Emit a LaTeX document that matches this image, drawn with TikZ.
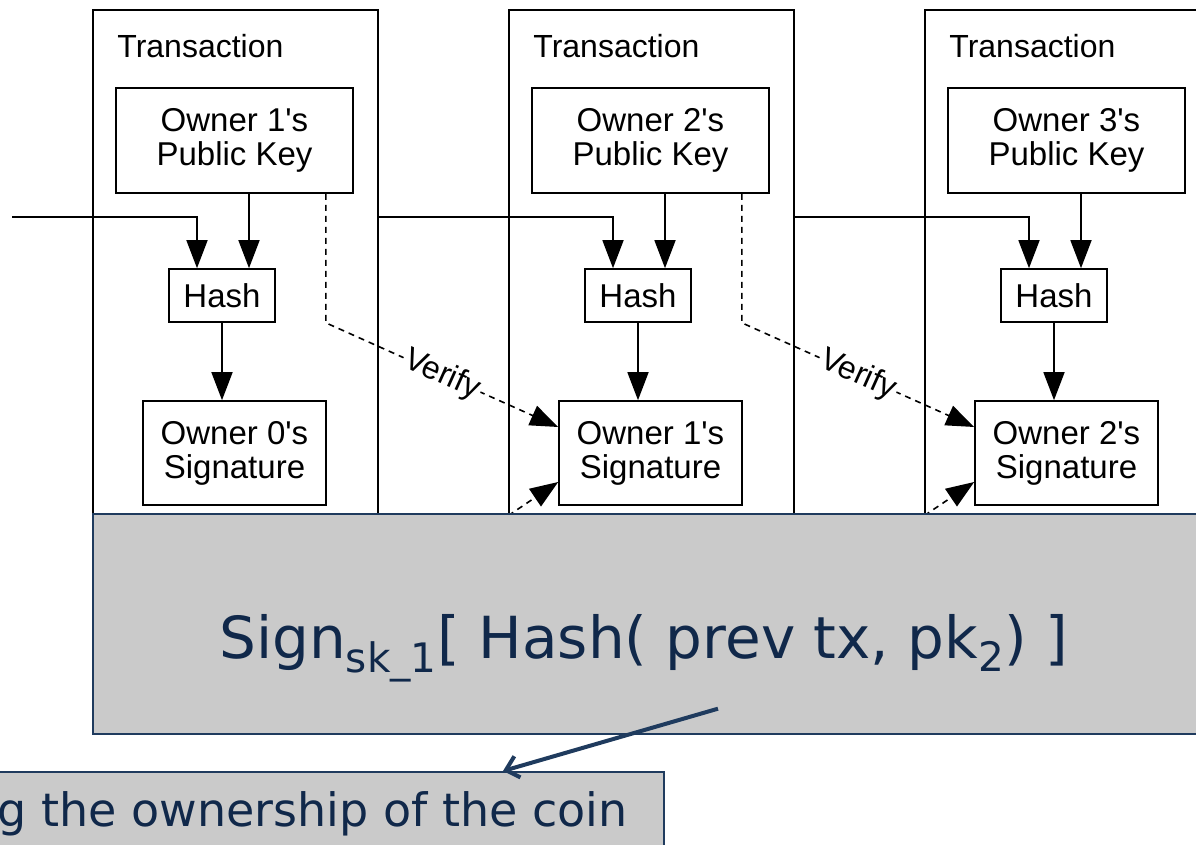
\documentclass[tikz,border=0pt]{standalone}
\usepackage{fontspec}
\setmainfont{Liberation Sans}
\newfontfamily\handfont{DejaVu Sans}
\usetikzlibrary{arrows.meta}
\definecolor{navy}{HTML}{1F3B5E}
\definecolor{inkblue}{HTML}{10284A}
\definecolor{panelgray}{HTML}{CACACA}

\begin{document}
\begin{tikzpicture}[
  x=0.5pt, y=-0.5pt,
  >={Triangle[length=14pt,width=10.5pt]},
  txbox/.style={draw, line width=0.8pt, minimum width=142.5pt, minimum height=266pt, anchor=north west, inner sep=0pt},
  box/.style={draw, line width=0.8pt, fill=white, align=center, inner sep=0pt, font=\fontsize{16.5}{17}\selectfont},
  title/.style={anchor=base west, inner sep=0pt, font=\fontsize{16}{16}\selectfont},
  edge/.style={->, line width=0.8pt},
  verify/.style={->, line width=0.8pt, dash pattern=on 3pt off 2.5pt},
  vlabel/.style={midway, sloped, fill=white, inner sep=1pt, font=\fontsize{16}{16}\selectfont},
  note/.style={draw=navy, line width=1pt, fill=panelgray, inner sep=0pt},
  hand/.style={text=inkblue, inner sep=0pt},
  pointer/.style={draw=navy, line width=2pt, -{Straight Barb[length=6pt,width=11pt]}}
]
  \useasboundingbox (0,0) rectangle (1196,845);

  % transactions
  \node[txbox] (tx1) at (92,9) {};
  \node[txbox] (tx2) at (508,9) {};
  \node[txbox] (tx3) at (924,9) {};
  \node[title] (t1) at (117,58) {Transaction};
  \node[title] (t2) at (533,58) {Transaction};
  \node[title] (t3) at (949,58) {Transaction};

  \node[box, minimum width=118.5pt, minimum height=52.5pt] (pk1) at (234.5,140.5) {Owner 1\textquotesingle s\\Public Key};
  \node[box, minimum width=118.5pt, minimum height=52.5pt] (pk2) at (650.5,140.5) {Owner 2\textquotesingle s\\Public Key};
  \node[box, minimum width=118.5pt, minimum height=52.5pt] (pk3) at (1066.5,140.5) {Owner 3\textquotesingle s\\Public Key};

  \node[box, minimum width=53pt, minimum height=26.5pt] (hash1) at (222,295.5) {Hash};
  \node[box, minimum width=53pt, minimum height=26.5pt] (hash2) at (638,295.5) {Hash};
  \node[box, minimum width=53pt, minimum height=26.5pt] (hash3) at (1054,295.5) {Hash};

  \node[box, minimum width=91.5pt, minimum height=52pt] (sig1) at (234.5,453) {Owner 0\textquotesingle s\\Signature};
  \node[box, minimum width=91.5pt, minimum height=52pt] (sig2) at (650.5,453) {Owner 1\textquotesingle s\\Signature};
  \node[box, minimum width=91.5pt, minimum height=52pt] (sig3) at (1066.5,453) {Owner 2\textquotesingle s\\Signature};

  % previous transaction into hash
  \coordinate (in0) at (12,217);
  \draw[edge] (in0) -| ([xshift=-12.5pt]hash1.north);
  \draw[edge] (tx1.east |- in0) -| ([xshift=-12.5pt]hash2.north);
  \draw[edge] (tx2.east |- in0) -| ([xshift=-12.5pt]hash3.north);

  % public key into hash
  \draw[edge] ([xshift=13.5pt]hash1.north |- pk1.south) -- ([xshift=13.5pt]hash1.north);
  \draw[edge] ([xshift=13.5pt]hash2.north |- pk2.south) -- ([xshift=13.5pt]hash2.north);
  \draw[edge] ([xshift=13.5pt]hash3.north |- pk3.south) -- ([xshift=13.5pt]hash3.north);

  \draw[edge] (hash1.south) -- (hash1.south |- sig1.north);
  \draw[edge] (hash2.south) -- (hash2.south |- sig2.north);
  \draw[edge] (hash3.south) -- (hash3.south |- sig3.north);

  % verify
  \draw[verify] ([xshift=-14pt]pk1.south east) -- ([xshift=-14pt]pk1.south east |- hash1.south)
    -- node[vlabel] (ver1) {Verify} ([yshift=13pt]sig2.west);
  \draw[verify] ([xshift=-14pt]pk2.south east) -- ([xshift=-14pt]pk2.south east |- hash2.south)
    -- node[vlabel] (ver2) {Verify} ([yshift=13pt]sig3.west);

  \coordinate (v2) at (490,528);
  \coordinate (v3) at (906,528);
  \draw[verify] (v2) -- ([yshift=-14.5pt]sig2.west);
  \draw[verify] (v3) -- ([yshift=-14.5pt]sig3.west);

  % signed message
  \node[note, anchor=north west, minimum width=570pt, minimum height=110pt] (panel) at (92,513) {};
  \node[hand, anchor=base, font=\handfont\fontsize{29}{29}\selectfont] (msg) at (644,659)
    {Sign\textsubscript{sk\_1}[ Hash( prev tx, pk\textsubscript{2}) ]};

  \node[note, anchor=north east, minimum width=400pt, minimum height=60pt] (claim) at (665,771) {};
  \node[hand, anchor=base east, font=\handfont\fontsize{23}{23}\selectfont] (claimtext) at (628,826)
    {g the ownership of the coin};

  \draw[pointer] ([xshift=37pt,yshift=-13pt]msg.south) -- ([xshift=-81pt]claim.north east);
\end{tikzpicture}
\end{document}
